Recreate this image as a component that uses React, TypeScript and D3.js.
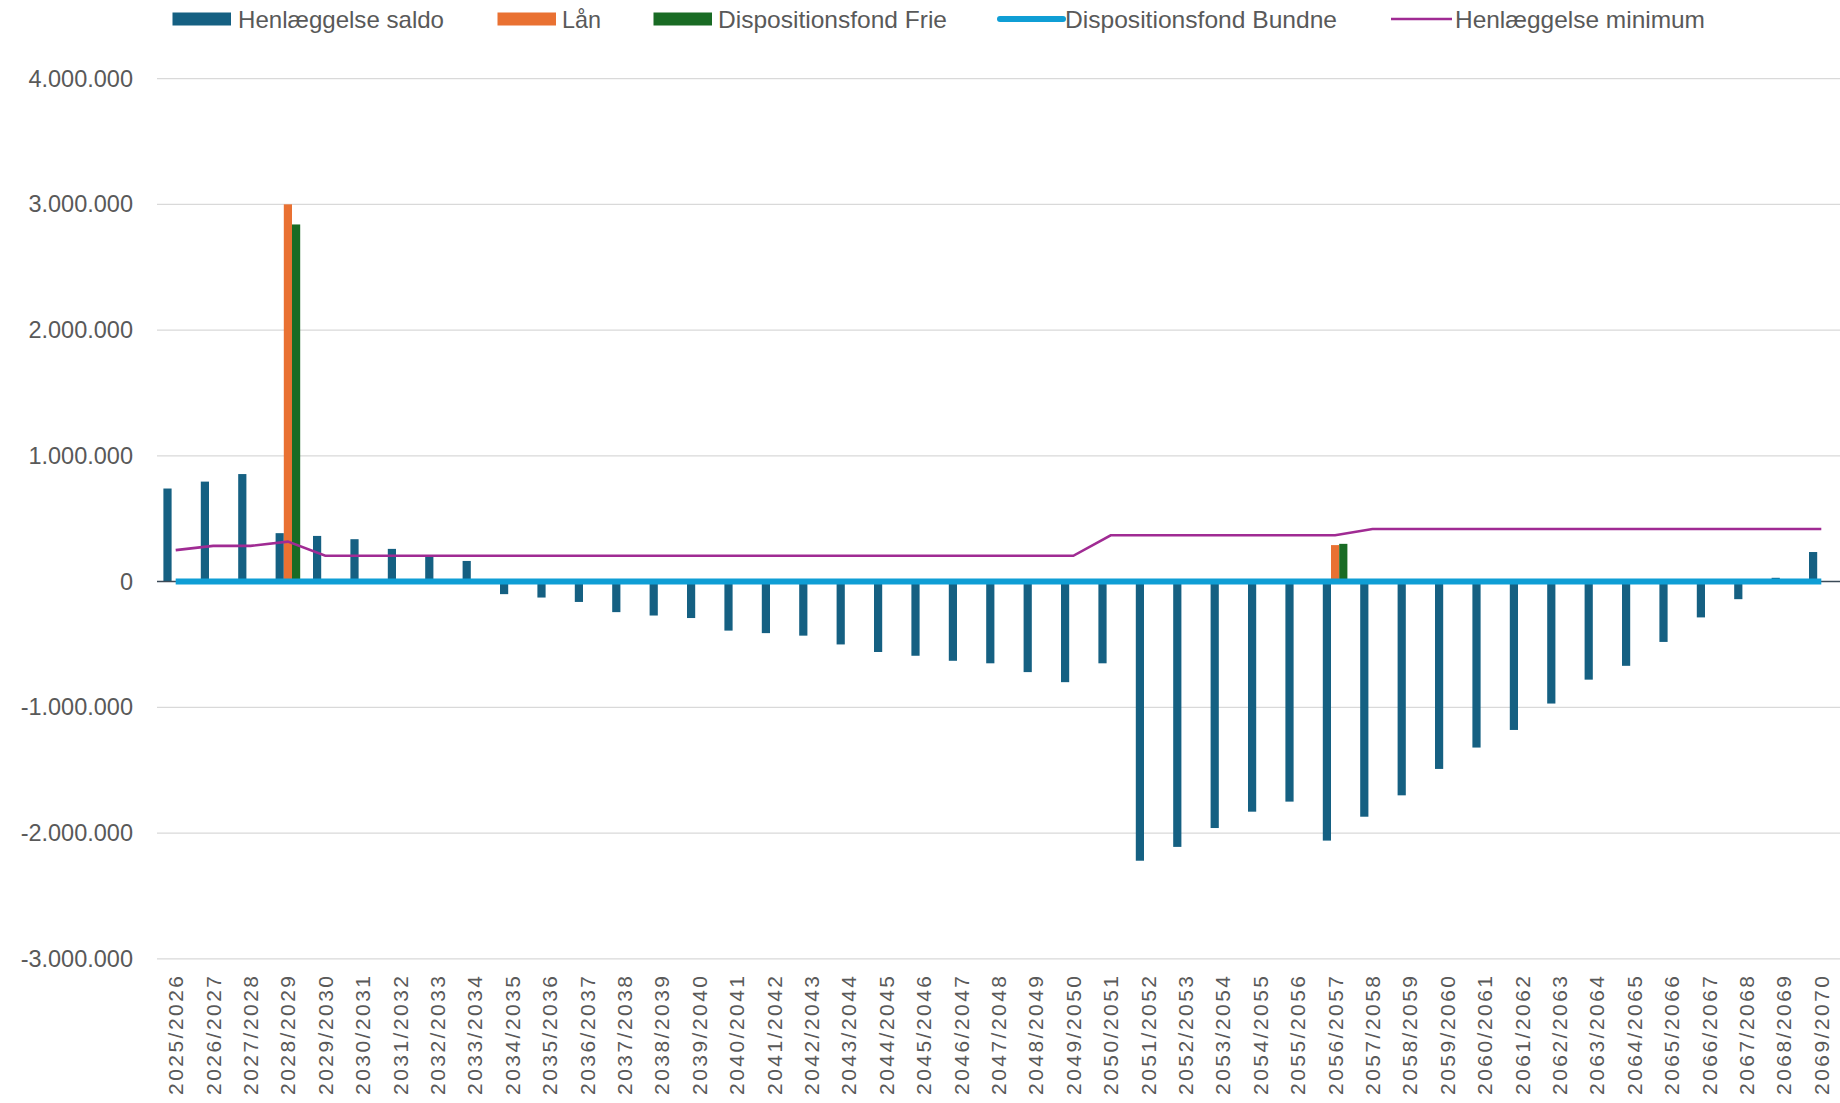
import React from 'react';
import * as d3 from 'd3';

const categories = [
  '2025/2026', '2026/2027', '2027/2028', '2028/2029', '2029/2030', '2030/2031', '2031/2032', '2032/2033', '2033/2034',
  '2034/2035', '2035/2036', '2036/2037', '2037/2038', '2038/2039', '2039/2040', '2040/2041', '2041/2042', '2042/2043',
  '2043/2044', '2044/2045', '2045/2046', '2046/2047', '2047/2048', '2048/2049', '2049/2050', '2050/2051', '2051/2052',
  '2052/2053', '2053/2054', '2054/2055', '2055/2056', '2056/2057', '2057/2058', '2058/2059', '2059/2060', '2060/2061',
  '2061/2062', '2062/2063', '2063/2064', '2064/2065', '2065/2066', '2066/2067', '2067/2068', '2068/2069', '2069/2070',
];

const henlaeggelseSaldo = [
  740000, 795000, 855000, 385000, 363000, 337000, 260000, 199000, 164000,
  -100000, -127000, -162000, -243000, -270000, -290000, -390000, -410000, -430000,
  -500000, -560000, -590000, -630000, -650000, -720000, -800000, -650000, -2220000,
  -2110000, -1960000, -1830000, -1750000, -2060000, -1870000, -1700000, -1490000, -1320000,
  -1180000, -970000, -780000, -670000, -480000, -285000, -140000, 30000, 235000,
];

// only two years carry loans / free funds
const laan = [
  0, 0, 0, 3000000, 0, 0, 0, 0, 0, 0, 0, 0, 0, 0, 0, 0, 0, 0, 0, 0, 0, 0, 0, 0, 0, 0, 0, 0, 0, 0, 0,
  290000, 0, 0, 0, 0, 0, 0, 0, 0, 0, 0, 0, 0, 0,
];

const dispFrie = [
  0, 0, 0, 2840000, 0, 0, 0, 0, 0, 0, 0, 0, 0, 0, 0, 0, 0, 0, 0, 0, 0, 0, 0, 0, 0, 0, 0, 0, 0, 0, 0,
  300000, 0, 0, 0, 0, 0, 0, 0, 0, 0, 0, 0, 0, 0,
];

const dispBundne = [
  0, 0, 0, 0, 0, 0, 0, 0, 0, 0, 0, 0, 0, 0, 0, 0, 0, 0, 0, 0, 0, 0, 0,
  0, 0, 0, 0, 0, 0, 0, 0, 0, 0, 0, 0, 0, 0, 0, 0, 0, 0, 0, 0, 0, 0,
];

const henlaeggelseMinimum = [
  250000, 284000, 284000, 318000, 205000, 205000, 205000, 205000, 205000, 205000, 205000, 205000, 205000,
  205000, 205000, 205000, 205000, 205000, 205000, 205000, 205000, 205000, 205000, 205000, 205000,
  368000, 368000, 368000, 368000, 368000, 368000, 368000,
  418000, 418000, 418000, 418000, 418000, 418000, 418000, 418000, 418000, 418000, 418000, 418000, 418000,
];

const yTicks = [4000000, 3000000, 2000000, 1000000, 0, -1000000, -2000000, -3000000];

const W = 1840;
const H = 1103;
const C = {
  saldo: '#156082',
  laan: '#E97132',
  frie: '#196B24',
  bundne: '#0F9ED5',
  minimum: '#A02B93',
  grid: '#D9D9D9',
  text: '#595959',
};

// danish style: dot as thousands separator, plain hyphen for minus
const fmt = (v: number) =>
  v === 0 ? '0' : (v < 0 ? '-' : '') + d3.format(',')(Math.abs(v)).replace(/,/g, '.');

export default function App() {
  const x = d3.scaleBand<string>().domain(categories).range([157, 1840]).padding(0);
  const y = d3.scaleLinear().domain([-3000000, 4000000]).range([958.8, 78.6]);
  const inner = d3.scaleBand<string>().domain(['saldo', 'laan', 'frie']).range([-12.3, 12.3]).padding(0);
  const cx = (c: string) => (x(c) || 0) + x.bandwidth() / 2;

  const line = d3.line<number>().x((_, i) => cx(categories[i])).y(d => y(d));

  const barSeries: { key: string; data: number[]; color: string }[] = [
    { key: 'saldo', data: henlaeggelseSaldo, color: C.saldo },
    { key: 'laan', data: laan, color: C.laan },
    { key: 'frie', data: dispFrie, color: C.frie },
  ];

  const legendFont = '"Liberation Sans Narrow", "Arial Narrow", "Liberation Sans", sans-serif';

  return (
    <svg width={W} height={H} style={{ position: 'absolute', left: 0, top: 0, background: '#fff' }}>
      {/* grid + y labels */}
      {yTicks.map(t => (
        <g key={t}>
          {t !== 0 && <line x1={157} x2={W} y1={y(t)} y2={y(t)} stroke={C.grid} strokeWidth={1.3} />}
          <text x={133} y={y(t)} textAnchor="end" dominantBaseline="central" fill={C.text}
            fontFamily='"Liberation Sans", Arial, sans-serif' fontSize={23.5}>{fmt(t)}</text>
        </g>
      ))}

      {/* bars */}
      {barSeries.map(s => (
        <g key={s.key}>
          {s.data.map((v, i) => v === 0 ? null : (
            <rect key={i}
              x={cx(categories[i]) + (inner(s.key) || 0)}
              y={Math.min(y(v), y(0))}
              width={inner.bandwidth()}
              height={Math.abs(y(v) - y(0))}
              fill={s.color} />
          ))}
        </g>
      ))}

      {/* axis line */}
      <line x1={157} x2={W} y1={y(0)} y2={y(0)} stroke="#3b4a57" strokeWidth={1.5} />

      {/* lines */}
      <path d={line(dispBundne) || ''} fill="none" stroke={C.bundne} strokeWidth={6} />
      <path d={line(henlaeggelseMinimum) || ''} fill="none" stroke={C.minimum} strokeWidth={2.6} />

      {/* x labels */}
      {categories.map(c => (
        <text key={c} transform={`translate(${cx(c)},976) rotate(-90)`} textAnchor="end" dominantBaseline="central"
          fill={C.text} fontFamily='"Liberation Sans", Arial, sans-serif' fontSize={21}
          textLength={119} lengthAdjust="spacing">{c}</text>
      ))}

      {/* legend */}
      <g fontFamily={legendFont} fontSize={24} fill={C.text}>
        <rect x={172.5} y={12.5} width={58.5} height={13} fill={C.saldo} />
        <text x={238} y={19} dominantBaseline="central" textLength={206} lengthAdjust="spacingAndGlyphs">Henlæggelse saldo</text>
        <rect x={497.5} y={12.5} width={58.5} height={13} fill={C.laan} />
        <text x={562} y={19} dominantBaseline="central" textLength={39} lengthAdjust="spacingAndGlyphs">Lån</text>
        <rect x={653.5} y={12.5} width={58.5} height={13} fill={C.frie} />
        <text x={718} y={19} dominantBaseline="central" textLength={229} lengthAdjust="spacingAndGlyphs">Dispositionsfond Frie</text>
        <line x1={1000} x2={1063} y1={19} y2={19} stroke={C.bundne} strokeWidth={6} strokeLinecap="round" />
        <text x={1065} y={19} dominantBaseline="central" textLength={272} lengthAdjust="spacingAndGlyphs">Dispositionsfond Bundne</text>
        <line x1={1391} x2={1452} y1={19} y2={19} stroke={C.minimum} strokeWidth={2.6} />
        <text x={1455} y={19} dominantBaseline="central" textLength={250} lengthAdjust="spacingAndGlyphs">Henlæggelse minimum</text>
      </g>
    </svg>
  );
}
